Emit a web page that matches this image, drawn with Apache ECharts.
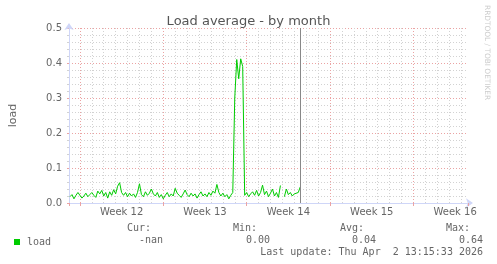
<!DOCTYPE html>
<html><head><meta charset="utf-8">
<script src="https://cdn.jsdelivr.net/npm/echarts@6/dist/echarts.min.js"></script>
<style>html,body{margin:0;padding:0;background:#fff}#c{width:497px;height:264px}</style>
</head><body><div id="c"></div>
<script>
// ---- data ----
const chartTitle = 'Load average - by month';
const seriesName = 'load';
const weekLabels = ['Week 12', 'Week 13', 'Week 14', 'Week 15', 'Week 16'];
const yTickValues = [0, 0.1, 0.2, 0.3, 0.4, 0.5];
// time in hours relative to start of Week 12, one sample every 4 hours
const sampleStartHour = -20;
const sampleStepHours = 4;
const loadValues = [
  0.018, 0.024, 0.012, 0.022, 0.030, 0.026, 0.014, 0.020, 0.028, 0.018,
  0.024, 0.030, 0.022, 0.016, 0.034, 0.026, 0.036, 0.020, 0.030, 0.014,
  0.032, 0.022, 0.038, 0.026, 0.048, 0.058, 0.030, 0.022, 0.030, 0.018,
  0.028, 0.020, 0.026, 0.016, 0.030, 0.055, 0.024, 0.018, 0.032, 0.022,
  0.028, 0.040, 0.026, 0.020, 0.030, 0.016, 0.024, 0.012, 0.022, 0.030,
  0.018, 0.026, 0.020, 0.042, 0.028, 0.022, 0.016, 0.026, 0.037, 0.024,
  0.018, 0.028, 0.020, 0.026, 0.014, 0.024, 0.032, 0.020, 0.026, 0.018,
  0.030, 0.022, 0.034, 0.028, 0.053, 0.030, 0.020, 0.028, 0.018, 0.024,
  0.012, 0.022, 0.030, 0.300, 0.410, 0.355, 0.412, 0.390, 0.022, 0.030,
  0.018, 0.026, 0.032, 0.022, 0.036, 0.020, 0.030, 0.051, 0.024, 0.034,
  0.018, 0.028, 0.040, 0.020, 0.030, 0.016, 0.050, null, 0.018, 0.040,
  0.024, 0.030, 0.020, 0.026, 0.028, 0.030, 0.046
];
const nowHour = 444;
const axisMinHour = -22;
const axisMaxHour = 782;
const statLabels = ['Cur:', 'Min:', 'Avg:', 'Max:'];
const statValues = ['-nan', '0.00', '0.04', '0.64'];
const lastUpdate = 'Last update: Thu Apr  2 13:15:33 2026';
const watermark = 'RRDTOOL / TOBI OETIKER';

// ---- build ----
const seriesData = loadValues.map((v, i) => [sampleStartHour + i * sampleStepHours, v]);
const txt = '#666666';
const axisCol = '#CFD6F8';
const minorCol = '#d2d2d2';
const majorCol = '#eba3a3';
const dots = [1, 2];

const statLabelX = [151, 257, 364, 470];
const statValueX = [163, 270, 376, 483];
const graphics = [];
statLabels.forEach((s, i) => graphics.push({
  type: 'text', x: statLabelX[i], y: 228,
  style: { text: s, fill: txt, font: '10px "DejaVu Sans Mono"', textAlign: 'right', textVerticalAlign: 'middle' }
}));
statValues.forEach((s, i) => graphics.push({
  type: 'text', x: statValueX[i], y: 240,
  style: { text: s, fill: txt, font: '10px "DejaVu Sans Mono"', textAlign: 'right', textVerticalAlign: 'middle' }
}));
graphics.push({
  type: 'text', x: 483, y: 252,
  style: { text: lastUpdate, fill: txt, font: '10px "DejaVu Sans Mono"', textAlign: 'right', textVerticalAlign: 'middle' }
});
graphics.push({
  type: 'text', x: 487, y: 5, rotation: -Math.PI / 2,
  style: { text: watermark, fill: '#cccccc', font: '7.4px "DejaVu Sans"', textAlign: 'left', textVerticalAlign: 'middle' }
});

const chart = echarts.init(document.getElementById('c'), null, { renderer: 'canvas' });
chart.setOption({
  animation: false,
  backgroundColor: '#ffffff',
  title: {
    text: chartTitle, left: 'center', top: 10,
    textStyle: { fontFamily: 'DejaVu Sans', fontSize: 13, fontWeight: 'normal', color: '#555555' }
  },
  legend: {
    data: [seriesName], left: 9, top: 232, icon: 'rect', itemWidth: 6, itemHeight: 6, itemGap: 5,
    textStyle: { fontFamily: 'DejaVu Sans Mono', fontSize: 10, color: txt, padding: [0, 0, 0, 2] },
    selectedMode: false
  },
  grid: { left: 66, right: 29, top: 28, bottom: 61, containLabel: false },
  xAxis: [
    { // data axis with day grid lines
      type: 'value', position: 'bottom', min: axisMinHour, max: axisMaxHour, minInterval: 24, maxInterval: 24,
      axisLine: { show: true, onZero: false, lineStyle: { color: axisCol, width: 1 }, symbol: ['none', 'arrow'], symbolSize: [7, 7], symbolOffset: [0, 5] },
      axisTick: { show: false }, axisLabel: { show: false },
      splitLine: { show: true, showMinLine: false, showMaxLine: false, lineStyle: { color: minorCol, type: dots, width: 1 } }
    },
    { // week grid lines
      type: 'value', position: 'bottom', min: axisMinHour, max: axisMaxHour, minInterval: 168, maxInterval: 168, z: 1,
      axisLine: { show: false, onZero: false },
      axisTick: { show: true, length: 3, lineStyle: { color: majorCol } },
      axisLabel: { show: false },
      splitLine: { show: true, showMinLine: false, showMaxLine: false, lineStyle: { color: majorCol, type: dots, width: 1 } }
    },
    { // week labels, centered in each week
      type: 'value', position: 'bottom', min: axisMinHour - 84, max: axisMaxHour - 84, minInterval: 168, maxInterval: 168,
      axisLine: { show: false, onZero: false }, axisTick: { show: false }, splitLine: { show: false },
      axisLabel: {
        show: true, margin: 4, showMinLabel: false, showMaxLabel: false,
        color: txt, fontFamily: 'DejaVu Sans', fontSize: 10,
        formatter: v => { const k = Math.round(v / 168); return (Math.abs(v - k * 168) < 1e-6 && weekLabels[k]) ? weekLabels[k] : ''; }
      }
    }
  ],
  yAxis: {
    type: 'value', min: yTickValues[0], max: yTickValues[yTickValues.length - 1], interval: 0.1,
    name: 'load', nameLocation: 'middle', nameGap: 50,
    nameTextStyle: { fontFamily: 'DejaVu Sans', fontSize: 11, color: txt },
    axisLine: { show: true, onZero: false, lineStyle: { color: axisCol, width: 1 }, symbol: ['none', 'arrow'], symbolSize: [7, 7], symbolOffset: [0, 5] },
    axisTick: { show: true, length: 2, lineStyle: { color: majorCol } },
    minorTick: { show: true, splitNumber: 5, length: 2, lineStyle: { color: minorCol } },
    axisLabel: { color: txt, fontFamily: 'DejaVu Sans', fontSize: 10, margin: 7, formatter: v => v.toFixed(1) },
    splitLine: { show: true, lineStyle: { color: majorCol, type: dots, width: 1 } },
    minorSplitLine: { show: true, lineStyle: { color: minorCol, type: dots, width: 1 } }
  },
  series: [{
    name: seriesName, type: 'line', xAxisIndex: 0, data: seriesData,
    showSymbol: false, symbol: 'none', connectNulls: false,
    itemStyle: { color: '#00cc00' },
    lineStyle: { color: '#00cc00', width: 1 },
    z: 3,
    markLine: {
      silent: true, symbol: ['none', 'none'], label: { show: false },
      lineStyle: { color: '#888888', type: 'solid', width: 1 },
      data: [{ xAxis: nowHour }]
    }
  }],
  graphic: graphics
});
</script>
</body></html>
